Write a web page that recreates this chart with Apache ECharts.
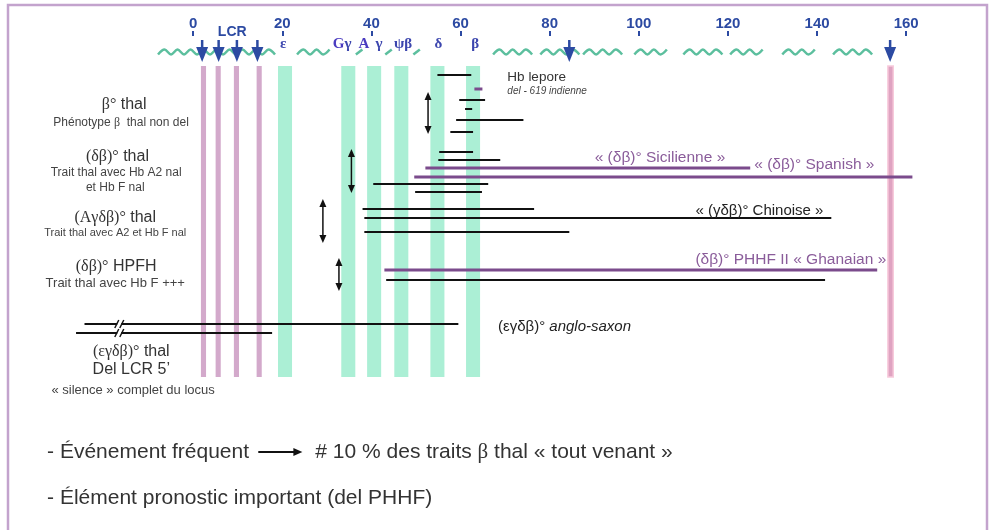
<!DOCTYPE html>
<html>
<head>
<meta charset="utf-8">
<script src="https://cdn.jsdelivr.net/npm/echarts@6/dist/echarts.min.js"></script>
<style>
html, body { margin: 0; padding: 0; background: #fff; }
#main { width: 994px; height: 530px; }
</style>
</head>
<body>
<div id="main"></div>
<script>
// carte du locus beta-globine : axe en kb, pistes de délétions
let myChart = echarts.init(document.getElementById('main'));

// --- données ---
const tickValues = [0, 20, 40, 60, 80, 100, 120, 140, 160];

const lcrSites = [2.3, 5.6, 9.7, 14.8];
const genePos = [20.6, 34.8, 40.6, 46.7, 54.8, 62.8];
const hsSites = [156.5];
const arrowPos = [2.0, 5.7, 9.8, 14.4, 84.4, 156.4];

const waveStart = [-7.9, 23.3, 36.5, 43.1, 49.4, 67.3, 77.9, 87.5, 99.0, 110.0, 120.5, 132.2, 143.6];
const waveEnd = [18.4, 31.9, 38.0, 44.7, 52.0, 76.3, 86.8, 96.3, 107.7, 118.9, 129.0, 140.7, 152.4];

// délétions : début, fin (kb), piste, violet ?, coupure
const delStart = [54.8, 63.1, 59.7, 61.0, 59.0, 57.7, 55.2, 55.0, 52.1, 49.6, 40.4, 49.8, 38.0, 38.4, 38.4, 42.9, 43.3, -24.4, -26.3];
const delEnd = [62.4, 64.9, 65.5, 62.6, 74.1, 62.8, 62.8, 68.9, 125.0, 161.4, 66.2, 64.8, 76.5, 143.2, 84.4, 153.5, 141.8, 59.5, 17.7];
const delTrack = [39, 53, 64, 73, 84, 96, 116, 124, 132, 141, 148, 156, 173, 182, 196, 234, 244, 288, 297];
const delPurple = [0, 1, 0, 0, 0, 0, 0, 0, 1, 1, 0, 0, 0, 0, 0, 1, 0, 0, 0];
const delBreak = [null, null, null, null, null, null, null, null, null, null, null, null, null, null, null, null, null, -16.6, -16.6];

// flèches doubles (étendue des délétions)
const spanX = [52.7, 35.5, 29.1, 32.7];
const spanFrom = [56, 113, 163, 222];
const spanTo = [98, 157, 207, 255];

// étiquettes
const labelText = [
    '{g|β°} thal', 'Phénotype {g|β}  thal non del',
    '{g|(δβ)°} thal', 'Trait thal avec Hb A2 nal', 'et Hb F nal',
    '{g|(Aγδβ)°} thal', 'Trait thal avec A2 et Hb F nal',
    '{g|(δβ)°} HPFH', 'Trait thal avec Hb F +++',
    '{g|(εγδβ)°} thal', 'Del LCR 5’', '« silence » complet du locus',
    'Hb lepore', 'del - 619 indienne',
    '« (δβ)° Sicilienne »', '« (δβ)° Spanish »', '« (γδβ)° Chinoise »',
    '(δβ)° PHHF II « Ghanaian »', '(εγδβ)° {i|anglo-saxon}',
    'LCR', 'ε', '{b|G}γ', '{b|A}', 'γ', 'ψβ', 'δ', 'β',
    '- Événement fréquent', '# 10 % des traits {g|β} thal « tout venant »',
    '- Élément pronostic important (del PHHF)'
];
const labelX = [
    -15.5, -16.2,
    -17.0, -17.3, -17.5,
    -17.5, -17.5,
    -17.3, -17.5,
    -13.9, -13.9, -13.5,
    70.5, 70.5,
    119.4, 125.9, 112.7,
    112.7, 68.4,
    8.75, 20.2, 33.4, 38.3, 41.7, 47.1, 55.0, 63.3,
    -32.8, 27.4,
    -32.8
];
const labelY = [
    69, 87,
    121, 137, 152,
    182, 197,
    231, 247,
    316, 334, 354,
    41, 55,
    122, 129, 175,
    224, 291,
    -4, 8, 8, 8, 8, 8, 8, 8,
    416, 416,
    462
];
const labelKind = [
    'main', 'sub',
    'main', 'sub', 'sub',
    'main', 'subS',
    'main', 'subL',
    'main', 'main', 'subL',
    'lepore', 'note',
    'purpleR', 'purple', 'right',
    'purple', 'right',
    'lcr', 'gene', 'gene', 'gene', 'gene', 'gene', 'gene', 'gene',
    'bottom', 'bottom',
    'bottom'
];

const pointerFrom = [14.6];
const pointerTo = [24.5];
const pointerY = [416];

// --- styles ---
const SANS = "'Liberation Sans', Arial, sans-serif";
const SERIF = "'Liberation Serif', 'DejaVu Serif', serif";
const BLUE = '#2c4aa2';
const PURPLE = '#7b4b8c';
const barTop = 30, barBottom = 341, waveTrack = 16;
const barWidth = { lcr: 1.15, gene: 3.15, hs: 1.2 };
const barColor = { lcr: '#d3a9cb', gene: '#abefd5', hs: '#dfa3c1' };

const labelStyles = {
    main: { fontSize: 16, fill: '#333', align: 'center', fontFamily: SANS },
    sub: { fontSize: 12, fill: '#444', align: 'center', fontFamily: SANS },
    subS: { fontSize: 11, fill: '#444', align: 'center', fontFamily: SANS },
    subL: { fontSize: 13, fill: '#444', align: 'center', fontFamily: SANS },
    lepore: { fontSize: 13.5, fill: '#333', align: 'left', fontFamily: SANS },
    right: { fontSize: 15, fill: '#222', align: 'left', fontFamily: SANS },
    note: { fontSize: 10, fill: '#444', align: 'left', fontFamily: SANS, fontStyle: 'italic' },
    purple: { fontSize: 15.5, fill: '#8a5c9a', align: 'left', fontFamily: SANS },
    purpleR: { fontSize: 15.5, fill: '#8a5c9a', align: 'right', fontFamily: SANS },
    lcr: { fontSize: 14, fill: BLUE, align: 'center', fontFamily: SANS, fontWeight: 'bold' },
    gene: { fontSize: 15, fill: '#3c46ae', align: 'center', fontFamily: SERIF, fontWeight: 'bold' },
    bottom: { fontSize: 21, fill: '#333', align: 'left', fontFamily: SANS }
};

function richFor(st) {
    return {
        g: { fontFamily: SERIF, fontSize: st.fontSize, fill: st.fill },
        i: { fontFamily: SANS, fontSize: st.fontSize, fill: st.fill, fontStyle: 'italic' },
        b: { fontFamily: SERIF, fontSize: st.fontSize, fill: '#4b3cc0', fontWeight: 'bold' }
    };
}

// --- rendus ---
function renderBar(params, api) {
    const k = barKind[params.dataIndex];
    const w = barWidth[k];
    const a = api.coord([api.value(0) - w / 2, barTop]);
    const b = api.coord([api.value(0) + w / 2, barBottom]);
    return {
        type: 'rect',
        shape: { x: a[0], y: a[1], width: b[0] - a[0], height: b[1] - a[1] },
        style: { fill: barColor[k], stroke: k === 'hs' ? '#f7cadb' : null, lineWidth: 1.5 }
    };
}

function renderWave(params, api) {
    const p0 = api.coord([api.value(0), waveTrack]);
    const p1 = api.coord([api.value(1), waveTrack]);
    const pts = [];
    let k = 0;
    for (let x = p0[0]; x <= p1[0] + 0.1; x += 6.5, k++) {
        pts.push([x, p0[1] + (k % 2 ? -2.5 : 2.5)]);
    }
    if (pts.length < 2) pts.push([p1[0], p0[1] - 2.5]);
    return {
        type: 'polyline',
        shape: { points: pts, smooth: 0.35 },
        style: { stroke: '#5cbf9e', lineWidth: 2.5, fill: null }
    };
}

function renderHsArrow(params, api) {
    const x = api.value(0);
    const top = api.coord([x, 4]);
    const base = api.coord([x, 11]);
    const tip = api.coord([x, 26]);
    return {
        type: 'group',
        children: [
            { type: 'line', shape: { x1: top[0], y1: top[1], x2: base[0], y2: base[1] + 2 }, style: { stroke: BLUE, lineWidth: 2.5 } },
            { type: 'polygon', shape: { points: [[base[0] - 6, base[1]], [base[0] + 6, base[1]], [tip[0], tip[1]]] }, style: { fill: BLUE } }
        ]
    };
}

function renderDeletion(params, api) {
    const i = params.dataIndex;
    const a = api.coord([api.value(0), api.value(1)]);
    const b = api.coord([api.value(2), api.value(1)]);
    const purple = delPurple[i] === 1;
    const children = [{
        type: 'line',
        shape: { x1: a[0], y1: a[1], x2: b[0], y2: b[1] },
        style: { stroke: purple ? PURPLE : '#111', lineWidth: purple ? 3 : 2 }
    }];
    if (delBreak[i] !== null) {
        const c = api.coord([delBreak[i], api.value(1)]);
        children.push({ type: 'rect', shape: { x: c[0] - 2, y: c[1] - 2, width: 4, height: 4 }, style: { fill: '#fff' } });
        children.push({ type: 'line', shape: { x1: c[0] - 4.5, y1: c[1] + 4, x2: c[0] - 0.5, y2: c[1] - 4 }, style: { stroke: '#111', lineWidth: 1.5 } });
        children.push({ type: 'line', shape: { x1: c[0] + 0.5, y1: c[1] + 4, x2: c[0] + 4.5, y2: c[1] - 4 }, style: { stroke: '#111', lineWidth: 1.5 } });
    }
    return { type: 'group', children: children };
}

function renderSpan(params, api) {
    const a = api.coord([api.value(0), api.value(1)]);
    const b = api.coord([api.value(0), api.value(2)]);
    return {
        type: 'group',
        children: [
            { type: 'line', shape: { x1: a[0], y1: a[1] + 4, x2: b[0], y2: b[1] - 4 }, style: { stroke: '#111', lineWidth: 1.5 } },
            { type: 'polygon', shape: { points: [[a[0], a[1]], [a[0] - 3.5, a[1] + 8], [a[0] + 3.5, a[1] + 8]] }, style: { fill: '#111' } },
            { type: 'polygon', shape: { points: [[b[0], b[1]], [b[0] - 3.5, b[1] - 8], [b[0] + 3.5, b[1] - 8]] }, style: { fill: '#111' } }
        ]
    };
}

function renderPointer(params, api) {
    const a = api.coord([api.value(0), api.value(1)]);
    const b = api.coord([api.value(2), api.value(1)]);
    return {
        type: 'group',
        children: [
            { type: 'line', shape: { x1: a[0], y1: a[1], x2: b[0] - 6, y2: b[1] }, style: { stroke: '#111', lineWidth: 2 } },
            { type: 'polygon', shape: { points: [[b[0], b[1]], [b[0] - 9, b[1] - 4], [b[0] - 9, b[1] + 4]] }, style: { fill: '#111' } }
        ]
    };
}

function renderLabel(params, api) {
    const i = params.dataIndex;
    const p = api.coord([api.value(0), api.value(1)]);
    const st = labelStyles[labelKind[i]];
    return {
        type: 'text',
        x: p[0],
        y: p[1],
        style: Object.assign({}, st, {
            text: labelText[i],
            verticalAlign: 'middle',
            rich: richFor(st)
        })
    };
}

const barX = lcrSites.concat(genePos, hsSites);
const barKind = lcrSites.map(() => 'lcr').concat(genePos.map(() => 'gene'), hsSites.map(() => 'hs'));

let option = {
    animation: false,
    backgroundColor: '#fff',
    grid: { left: 15, right: 21, top: 36, bottom: 149 },
    xAxis: {
        type: 'value',
        position: 'top',
        min: -40,
        max: 175,
        interval: 20,
        axisLine: { show: false },
        splitLine: { show: false },
        axisTick: {
            show: true,
            length: 5,
            customValues: tickValues,
            lineStyle: { color: BLUE, width: 2 }
        },
        axisLabel: {
            customValues: tickValues,
            color: BLUE,
            fontWeight: 'bold',
            fontSize: 15,
            margin: 5,
            fontFamily: SANS
        }
    },
    yAxis: { type: 'value', inverse: true, min: 0, max: 345, show: false },
    graphic: [{
        type: 'rect',
        shape: { x: 8, y: 5, width: 979, height: 600 },
        style: { fill: null, stroke: '#c3a3cd', lineWidth: 2.5 },
        z: 100
    }],
    series: [
        { type: 'custom', name: 'bars', renderItem: renderBar, data: barX.map(x => [x, barTop]), z: 1 },
        { type: 'custom', name: 'wave', renderItem: renderWave, data: waveStart.map((s, i) => [s, waveEnd[i]]), z: 2 },
        { type: 'custom', name: 'hs', renderItem: renderHsArrow, data: arrowPos.map(x => [x, 4]), z: 3 },
        { type: 'custom', name: 'deletions', renderItem: renderDeletion, data: delStart.map((s, i) => [s, delTrack[i], delEnd[i]]), z: 4 },
        { type: 'custom', name: 'spans', renderItem: renderSpan, data: spanX.map((x, i) => [x, spanFrom[i], spanTo[i]]), z: 4 },
        { type: 'custom', name: 'pointer', renderItem: renderPointer, data: pointerFrom.map((s, i) => [s, pointerY[i], pointerTo[i]]), z: 4 },
        { type: 'custom', name: 'labels', renderItem: renderLabel, data: labelX.map((x, i) => [x, labelY[i]]), z: 5 }
    ]
};

myChart.setOption(option);
</script>
</body>
</html>
